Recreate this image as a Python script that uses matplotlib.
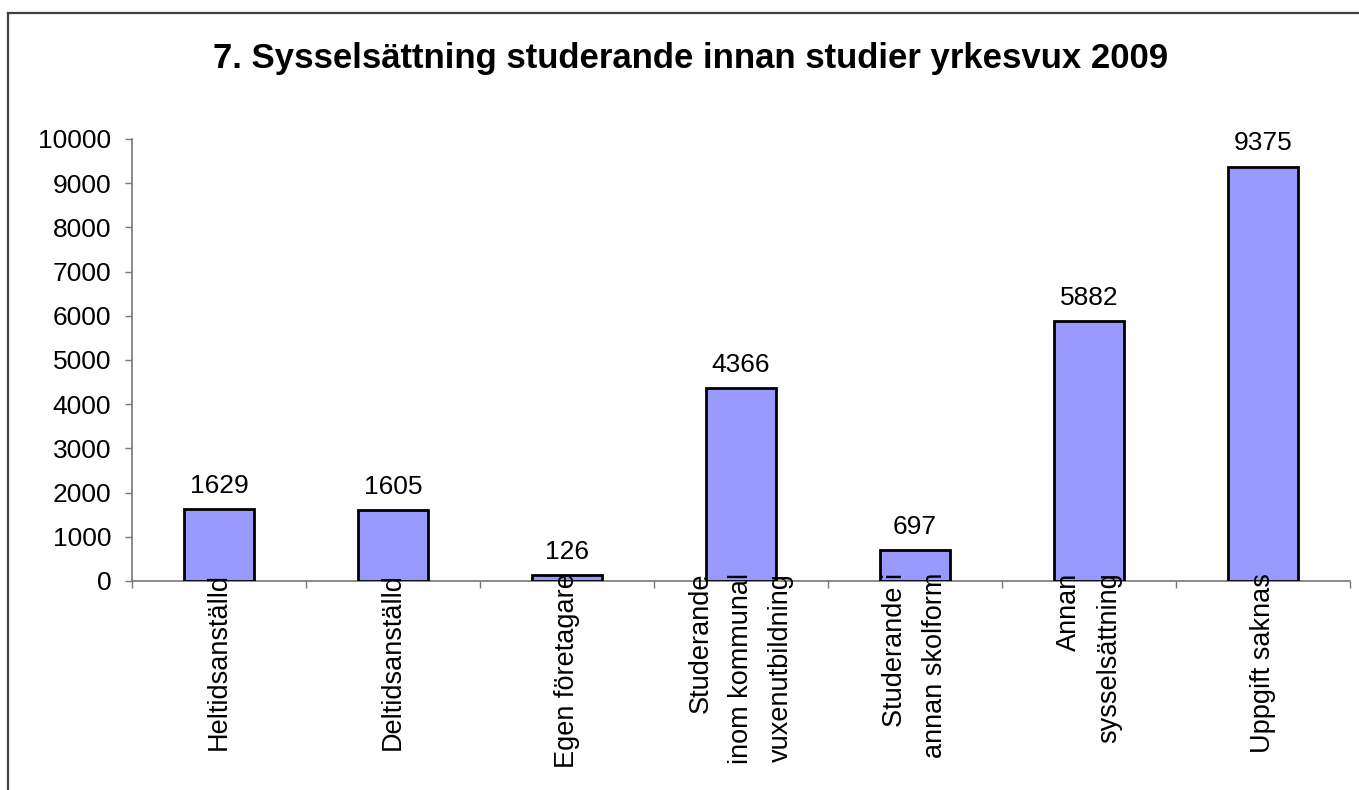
#Sysselsattning studerande yrkesvux 2009 - bar chart

import numpy as np
import matplotlib.pyplot as plt
from matplotlib.lines import Line2D

#Data
categories = ['Heltidsanställd', 'Deltidsanställd', 'Egen företagare',
              'Studerande\ninom kommunal\nvuxenutbildning',
              'Studerande i\nannan skolform', 'Annan\nsysselsättning',
              'Uppgift saknas']
values = [1629, 1605, 126, 4366, 697, 5882, 9375]
y_ticks = [0, 1000, 2000, 3000, 4000, 5000, 6000, 7000, 8000, 9000, 10000]

plt.rcParams['font.family'] = ['Liberation Sans', 'DejaVu Sans']

fig = plt.figure(figsize=(13.59, 7.9), dpi=100)
ax = fig.add_axes([0.0971, 0.2646, 0.8963, 0.5595])
ax.set_axisbelow(False)  # category labels are drawn over the bars

x = np.arange(len(categories))
ax.bar(x, values, width=0.4, color='#9999FF', edgecolor='black', linewidth=2, zorder=1)

# value labels above bars
for xi, v in zip(x, values):
    ax.annotate(str(v), (xi, v), xytext=(0, 8), textcoords='offset points',
                ha='center', va='bottom', fontsize=19)

ax.set_xlim(-0.5, len(categories) - 0.5)
ax.set_ylim(0, 10000)
ax.set_yticks(y_ticks)
ax.tick_params(axis='y', labelsize=19, length=5, width=1, color='#777777', pad=10)

# ticks between categories, labels at category centers
ax.set_xticks(np.arange(len(categories) + 1) - 0.5)
ax.set_xticklabels([])
ax.tick_params(axis='x', which='major', length=5, width=1, color='#777777')
ax.set_xticks(x, minor=True)
ax.set_xticklabels(categories, minor=True, rotation=90, va='top', ha='center',
                   multialignment='right', linespacing=1.7, fontsize=19.5)
ax.tick_params(axis='x', which='minor', length=0, pad=-6)

for s in ['top', 'right']:
    ax.spines[s].set_visible(False)
for s in ['left', 'bottom']:
    ax.spines[s].set_color('#777777')
    ax.spines[s].set_linewidth(1.2)
    ax.spines[s].set_zorder(0.5)

fig.text(0.508, 0.926, '7. Sysselsättning studerande innan studier yrkesvux 2009',
         ha='center', va='center', fontsize=25, fontweight='bold')

# outer frame lines (top and left)
fig.add_artist(Line2D([8/1359, 1], [1 - 13/790, 1 - 13/790], color='#404040', lw=1.6))
fig.add_artist(Line2D([8/1359, 8/1359], [0, 1 - 13/790], color='#404040', lw=1.6))

plt.savefig('out.png', dpi=100)
